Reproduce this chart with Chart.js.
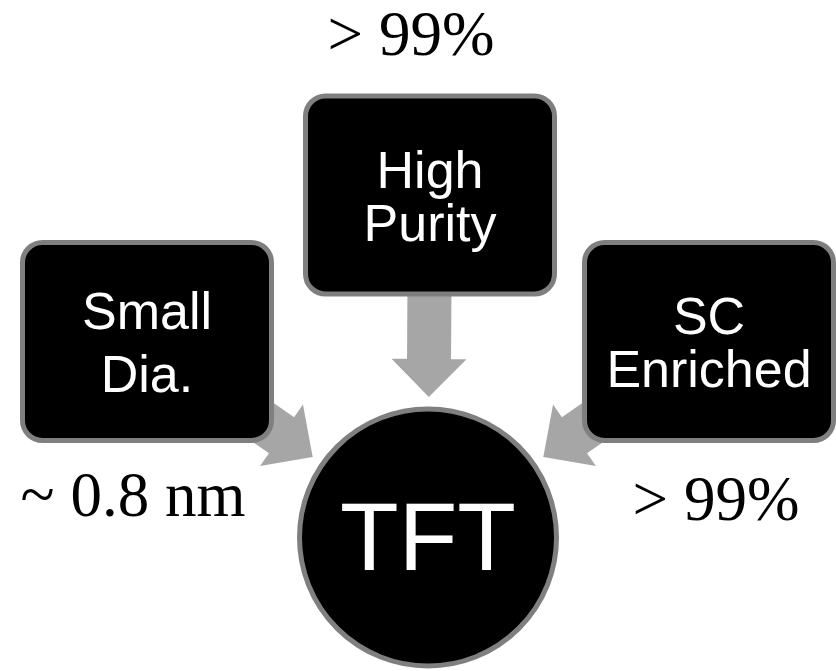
<!DOCTYPE html>
<html>
<head>
<meta charset="utf-8">
<script src="https://cdn.jsdelivr.net/npm/chart.js@4.4.0/dist/chart.umd.min.js"></script>
<style>
    html, body { margin: 0; padding: 0; background: #fff; }
    #wrap { width: 836px; height: 671px; position: relative; }
</style>
</head>
<body>
<div id="wrap"><canvas id="diagram"></canvas></div>
<script>
// diagram content
const nodeLabels = ['Small Dia.', 'High Purity', 'SC Enriched'];
const nodeLines = [['Small', 'Dia.'], ['High', 'Purity'], ['SC', 'Enriched']];
const nodeValues = ['~ 0.8 nm', '> 99%', '> 99%'];
const targetLabel = 'TFT';

// layout in diagram units (x: 0..836, y: 0..671 top-down)
const nodeCenters = [[147, 341.5], [430, 195], [709, 341.5]];
const targetCenter = [428, 537.5];
const valueAnchors = [[133, 516], [411, 55], [716, 520]];
const lineGaps = [63, 53, 53];

const BOX_W = 254, BOX_H = 203, BOX_R = 20, BORDER = 5;
const CIRCLE_R = 131;
const ARROW = { tail: 60, tip: 202, shaft: 22, head: 37.5, headLen: 38, color: '#a6a6a6' };
const BORDER_COLOR = '#7f7f7f';

function roundBox(ctx, cx, cy, w, h, r) {
    ctx.beginPath();
    ctx.roundRect(cx - w / 2 + BORDER / 2, cy - h / 2 + BORDER / 2, w - BORDER, h - BORDER, r);
    ctx.fillStyle = '#000';
    ctx.fill();
    ctx.lineWidth = BORDER;
    ctx.strokeStyle = BORDER_COLOR;
    ctx.stroke();
}

function arrow(ctx, from, to, unit) {
    const dx = to.x - from.x, dy = to.y - from.y;
    const len = Math.hypot(dx, dy);
    const ux = dx / len, uy = dy / len, nx = -uy, ny = ux;
    const a = ARROW.tail * unit, t = ARROW.tip * unit, hb = (ARROW.tip - ARROW.headLen) * unit;
    const s = ARROW.shaft * unit, h = ARROW.head * unit;
    const p = (d, w) => [from.x + ux * d + nx * w, from.y + uy * d + ny * w];
    const pts = [p(a, -s), p(hb, -s), p(hb, -h), p(t, 0), p(hb, h), p(hb, s), p(a, s)];
    ctx.beginPath();
    pts.forEach((q, i) => i ? ctx.lineTo(q[0], q[1]) : ctx.moveTo(q[0], q[1]));
    ctx.closePath();
    ctx.fillStyle = ARROW.color;
    ctx.fill();
}

const diagramPlugin = {
    id: 'diagram',
    afterDatasetsDraw(chart) {
        const ctx = chart.ctx;
        const xs = chart.scales.x;
        const unit = xs.getPixelForValue(1) - xs.getPixelForValue(0);
        const boxes = chart.getDatasetMeta(0).data;
        const target = chart.getDatasetMeta(1).data[0];
        const values = chart.getDatasetMeta(2).data;
        ctx.save();

        // arrows first, boxes cover their tails
        boxes.forEach(b => arrow(ctx, b, target, unit));

        boxes.forEach((b, i) => {
            roundBox(ctx, b.x, b.y, BOX_W * unit, BOX_H * unit, BOX_R * unit);
            ctx.fillStyle = '#fff';
            ctx.font = (52 * unit) + 'px "Liberation Sans", Arial, sans-serif';
            ctx.textAlign = 'center';
            ctx.textBaseline = 'alphabetic';
            const gap = lineGaps[i] * unit;
            const capH = 38 * unit;
            const first = b.y - (gap + capH) / 2 + capH;
            nodeLines[i].forEach((line, k) => ctx.fillText(line, b.x, first + k * gap));
        });

        // target circle
        ctx.beginPath();
        ctx.arc(target.x, target.y, (CIRCLE_R - BORDER / 2) * unit, 0, Math.PI * 2);
        ctx.fillStyle = '#000';
        ctx.fill();
        ctx.lineWidth = BORDER;
        ctx.strokeStyle = BORDER_COLOR;
        ctx.stroke();
        ctx.fillStyle = '#fff';
        ctx.font = (96 * unit) + 'px "Liberation Sans", Arial, sans-serif';
        ctx.textAlign = 'center';
        ctx.textBaseline = 'alphabetic';
        ctx.fillText(targetLabel, target.x, target.y + 32 * unit);

        // values
        ctx.fillStyle = '#000';
        ctx.font = (63 * unit) + 'px "Liberation Serif", "Times New Roman", serif';
        values.forEach((v, i) => ctx.fillText(nodeValues[i], v.x, v.y));

        ctx.restore();
    }
};

new Chart(document.getElementById('diagram'), {
    type: 'scatter',
    data: {
        datasets: [
            { label: 'nodes', data: nodeCenters.map((c, i) => ({ x: c[0], y: c[1], name: nodeLabels[i] })), pointRadius: 0 },
            { label: 'target', data: [{ x: targetCenter[0], y: targetCenter[1] }], pointRadius: 0 },
            { label: 'values', data: valueAnchors.map(c => ({ x: c[0], y: c[1] })), pointRadius: 0 }
        ]
    },
    options: {
        responsive: true,
        maintainAspectRatio: false,
        animation: false,
        layout: { padding: 0 },
        scales: {
            x: { type: 'linear', min: 0, max: 836, display: false },
            y: { type: 'linear', min: 0, max: 671, reverse: true, display: false }
        },
        plugins: {
            legend: { display: false },
            tooltip: { enabled: false }
        }
    },
    plugins: [diagramPlugin]
});
</script>
</body>
</html>
